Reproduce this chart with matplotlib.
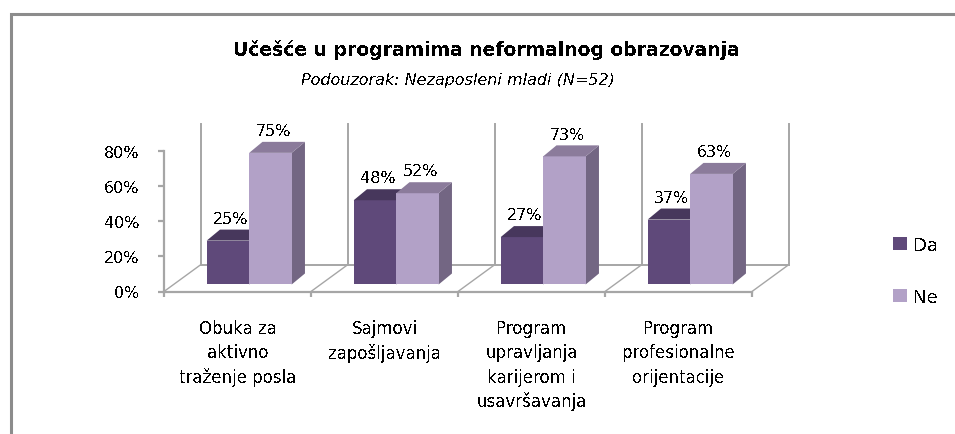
import matplotlib
matplotlib.use("Agg")
import matplotlib.pyplot as plt
from matplotlib.patches import Polygon, Patch, Rectangle
import numpy as np

plt.rcParams['font.family'] = ['DejaVu Sans']
plt.rcParams['text.antialiased'] = False

# ---- data ----
categories = ["Obuka za\naktivno\ntraženje posla",
              "Sajmovi\nzapošljavanja",
              "Program\nupravljanja\nkarijerom i\nusavršavanja",
              "Program\nprofesionalne\norijentacije"]
series_names = ["Da", "Ne"]
da_values = [25, 48, 27, 37]
ne_values = [75, 52, 73, 63]
ytick_values = [0, 20, 40, 60, 80]
ytick_labels = ["0%", "20%", "40%", "60%", "80%"]
title = "Učešće u programima neformalnog obrazovanja"
subtitle = "Podouzorak: Nezaposleni mladi (N=52)"

# ---- style ----
front_cols = ["#5f497a", "#b2a1c7"]
top_cols = ["#47375c", "#8b7b9b"]
side_cols = ["#47375c", "#736683"]
grid_col = "#a6a6a6"

W, H = 955, 435
fig = plt.figure(figsize=(W / 100, H / 100), dpi=100)

# outer frame (only left/top visible in crop)
fig.add_artist(Rectangle((10.5 / W, -0.05), 1.2, 1 - 14.5 / H + 0.05,
                         transform=fig.transFigure, fill=False,
                         edgecolor="#8c8c8c", linewidth=2.2))

ax = fig.add_axes([164 / W, (H - 292.5) / H, 632 / W, 172 / H])
ax.set_xlim(0, 632 / 147)
ax.set_ylim(0, 172 / 1.755)

n = len(categories)
DX, DY = 37 / 147, 27 / 1.755          # full floor depth offset
D0X, D0Y = 0.26 * DX, 0.26 * DY        # bar front face depth
BDX, BDY = 13.3 / 147, 11.0 / 1.755    # bar depth offset
A, BW = 0.225, 0.289                   # bar start within category, bar width

# back wall / floor
for i in range(n + 1):
    ax.plot([i, i + DX], [0, DY], color=grid_col, lw=1.0, zorder=1)
    ax.plot([i + DX, i + DX], [DY, 80 + DY], color=grid_col, lw=1.4, zorder=1)
ax.plot([DX, n + DX], [DY, DY], color=grid_col, lw=1.4, zorder=1)

def draw_bar(x0, v, k):
    x = x0 + D0X
    y = D0Y
    # front
    ax.add_patch(Polygon([(x, y), (x + BW, y), (x + BW, y + v), (x, y + v)],
                         closed=True, facecolor=front_cols[k], edgecolor="none", zorder=3))
    # top
    ax.add_patch(Polygon([(x, y + v), (x + BW, y + v), (x + BW + BDX, y + v + BDY),
                          (x + BDX, y + v + BDY)],
                         closed=True, facecolor=top_cols[k], edgecolor="none", zorder=3))
    # side
    ax.add_patch(Polygon([(x + BW, y), (x + BW + BDX, y + BDY), (x + BW + BDX, y + v + BDY),
                          (x + BW, y + v)],
                         closed=True, facecolor=side_cols[k], edgecolor="none", zorder=2.9 + 0.01 * k))
    ax.text(x + BW / 2 + BDX * 0.2, y + v + BDY + 2.2, f"{v}%", ha="center", va="bottom",
            fontsize=11.5, color="black", zorder=5)

for i in range(n):
    draw_bar(i + A, da_values[i], 0)
    draw_bar(i + A + BW, ne_values[i], 1)

# axes styling
for s in ["top", "right"]:
    ax.spines[s].set_visible(False)
ax.spines["left"].set_bounds(0, 80)
ax.spines["bottom"].set_bounds(0, n)
for s in ["left", "bottom"]:
    ax.spines[s].set_color(grid_col)
    ax.spines[s].set_linewidth(1.6)
    ax.spines[s].set_zorder(4)
ax.set_yticks(ytick_values)
ax.set_yticklabels(ytick_labels, fontsize=11.5)
ax.tick_params(axis="y", length=4, width=1.6, color=grid_col, pad=13.5)
ax.set_xticks(np.arange(n + 1))
ax.set_xticklabels([])
ax.tick_params(axis="x", which="major", length=3.5, width=1.6, color=grid_col)
ax.set_xticks(np.arange(n) + 0.5, minor=True)
ax.set_xticklabels(categories, minor=True, fontsize=12, linespacing=1.44)
ax.tick_params(axis="x", which="minor", length=0, pad=20)
ax.patch.set_visible(False)

fig.text(486 / W, 1 - 50 / H, title, ha="center", va="center", fontsize=13.5,
         fontweight="bold")
fig.text(458 / W, 1 - 81 / H, subtitle, ha="center", va="center", fontsize=11.5,
         style="italic")

handles = [Patch(facecolor=front_cols[k], edgecolor="none") for k in range(2)]
fig.legend(handles, series_names, loc="center left",
           bbox_to_anchor=(893 / W, 1 - 272 / H), frameon=False, fontsize=13,
           handlelength=0.75, handleheight=0.75, handletextpad=0.35,
           labelspacing=1.9, borderpad=0, borderaxespad=0)

fig.savefig("out.png", dpi=100)
